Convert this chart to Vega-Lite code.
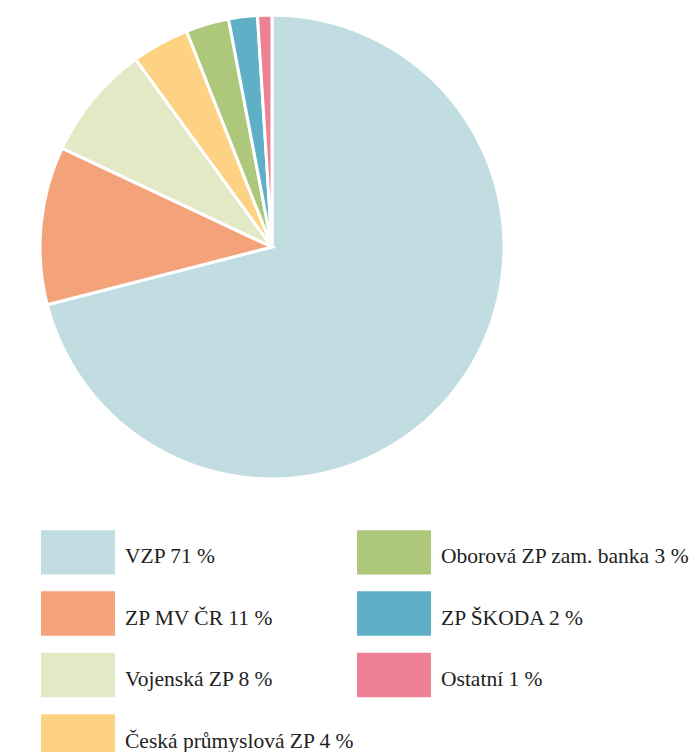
{
  "$schema": "https://vega.github.io/schema/vega-lite/v6.json",
  "width": 464,
  "height": 464,
  "padding": {"left": 34, "top": 9, "right": 0, "bottom": 0},
  "background": "white",
  "data": {"values": [
    {"label": "VZP 71 %", "value": 71, "idx": 1},
    {"label": "ZP MV ČR 11 %", "value": 11, "idx": 2},
    {"label": "Vojenská ZP 8 %", "value": 8, "idx": 3},
    {"label": "Česká průmyslová ZP 4 %", "value": 4, "idx": 4},
    {"label": "Oborová ZP zam. banka 3 %", "value": 3, "idx": 5},
    {"label": "ZP ŠKODA 2 %", "value": 2, "idx": 6},
    {"label": "Ostatní 1 %", "value": 1, "idx": 7}
  ]},
  "mark": {"type": "arc", "stroke": "white", "strokeWidth": 3},
  "encoding": {
    "theta": {"field": "value", "type": "quantitative", "stack": true},
    "order": {"field": "idx", "type": "quantitative"},
    "color": {
      "field": "label",
      "type": "nominal",
      "scale": {
        "domain": ["VZP 71 %", "ZP MV ČR 11 %", "Vojenská ZP 8 %", "Česká průmyslová ZP 4 %", "Oborová ZP zam. banka 3 %", "ZP ŠKODA 2 %", "Ostatní 1 %"],
        "range": ["#c2dde1", "#f3a27a", "#e3e8c5", "#fdd282", "#adc87b", "#5fb0c6", "#ec8294"]
      },
      "legend": {
        "title": null,
        "orient": "none",
        "legendX": 1,
        "legendY": 500,
        "columns": 2,
        "columnPadding": 2,
        "rowPadding": 1.5,
        "padding": 0,
        "symbolType": "M-1,-0.6H1V0.6H-1Z",
        "symbolSize": 5476,
        "symbolStrokeWidth": 0,
        "symbolOpacity": 1,
        "labelFontSize": 21.5,
        "labelColor": "#222222",
        "labelOffset": 10,
        "labelLimit": 400
      }
    }
  },
  "config": {
    "view": {"stroke": null},
    "font": "Liberation Serif",
    "legend": {"labelFont": "Liberation Serif"},
    "style": {"guide-label": {"dy": 5}}
  }
}
